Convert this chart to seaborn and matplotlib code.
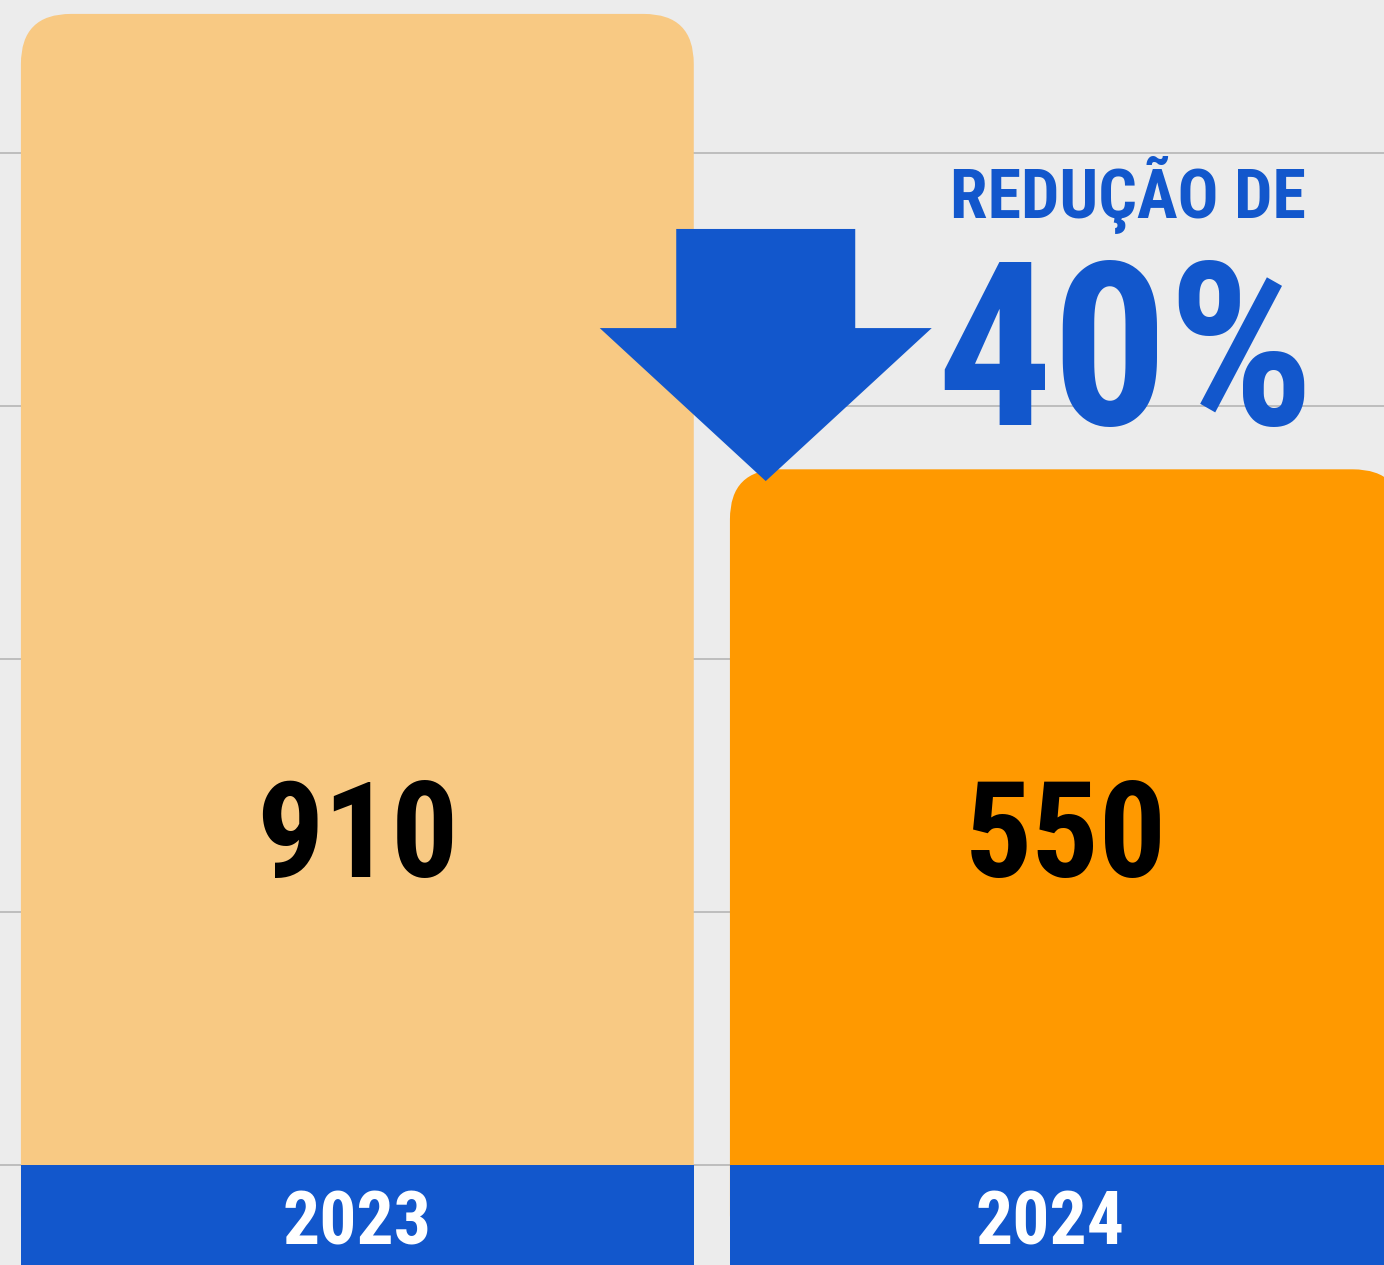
import matplotlib
matplotlib.use("Agg")
import matplotlib.pyplot as plt
from matplotlib import font_manager
from matplotlib.patches import FancyBboxPatch, Rectangle, FancyArrow
import pandas as pd
import seaborn as sns

# data
years = ["2023", "2024"]
totals = [910, 550]
bar_colors = ["#F8C983", "#FF9900"]
headline = "REDUÇÃO DE"
reduction = "40%"
grid_values = [0, 200, 400, 600, 800]

df = pd.DataFrame({"ano": years, "total": totals})

blue = "#1257CC"
bg = "#ececec"


def has_font(name):
    try:
        font_manager.findfont(font_manager.FontProperties(family=name, weight="bold"),
                              fallback_to_default=False)
        return True
    except ValueError:
        return False


# the reference uses a heavy condensed face; take the narrowest one we have
if has_font("Roboto Condensed"):
    fam = ["Roboto Condensed", "DejaVu Sans"]
    sizes = {"head": 49, "pct": 165, "val": 96, "year": 53}
elif has_font("Roboto"):
    fam = ["Roboto", "DejaVu Sans"]
    sizes = {"head": 43, "pct": 140, "val": 82, "year": 45}
else:
    fam = ["DejaVu Sans"]
    sizes = {"head": 37, "pct": 114, "val": 68, "year": 37}
weight = "heavy"

fig = plt.figure(figsize=(13.84, 12.65), dpi=100, facecolor=bg)
ax = fig.add_axes([0, 0, 1, 1])
sns.barplot(data=df, x="ano", y="total", hue="ano", palette=bar_colors, legend=False,
            width=0.949, saturation=1, ax=ax)

xlim = (-0.504, 1.448)
ylim = (-79, 921)
ax.set_xlim(*xlim)
ax.set_ylim(*ylim)
ax.set_axis_off()

# pixels per data unit, used for round corners
px_x = 1384 / (xlim[1] - xlim[0])
px_y = 1265 / (ylim[1] - ylim[0])

ax.hlines(grid_values, xlim[0], xlim[1], color="#b5b5b5", lw=1.2, zorder=0.5)

for patch in list(ax.patches):
    x0, w, h = patch.get_x(), patch.get_width(), patch.get_height()
    fc = patch.get_facecolor()
    patch.remove()
    ax.add_patch(FancyBboxPatch((x0, ylim[0]), w, h - ylim[0],
                                boxstyle=f"round,pad=0,rounding_size={50 / px_x}",
                                mutation_aspect=px_x / px_y, fc=fc, ec="none", zorder=2))
    # blue year band under each bar
    ax.add_patch(Rectangle((x0, ylim[0]), w, -ylim[0], fc=blue, ec="none", zorder=3))

for i, (yr, v) in enumerate(zip(years, totals)):
    ax.text(i, 228, str(v), ha="center", va="baseline", fontsize=sizes["val"],
            fontweight=weight, fontstretch="condensed", family=fam, color="black", zorder=4)
    left = max(i - 0.949 / 2, xlim[0])
    right = min(i + 0.949 / 2, xlim[1])
    ax.text((left + right) / 2 - 0.01 * i, -63, yr, ha="center", va="baseline",
            fontsize=sizes["year"], fontweight=weight, fontstretch="condensed",
            family=fam, color="white", zorder=4)

# arrow between the two bars
ax.add_patch(FancyArrow(0.576, 740, 0, 540.7 - 740, width=179 / px_x, head_width=332 / px_x,
                        head_length=153 / px_y, length_includes_head=True,
                        fc=blue, ec="none", zorder=5))

ax.text(1.087, 749, headline, ha="center", va="baseline", fontsize=sizes["head"],
        fontweight=weight, fontstretch="condensed", family=fam, color=blue, zorder=4)
ax.text(1.083, 585, reduction, ha="center", va="baseline", fontsize=sizes["pct"],
        fontweight=weight, fontstretch="condensed", family=fam, color=blue, zorder=4)

fig.savefig("out.png", dpi=100, facecolor=bg)
